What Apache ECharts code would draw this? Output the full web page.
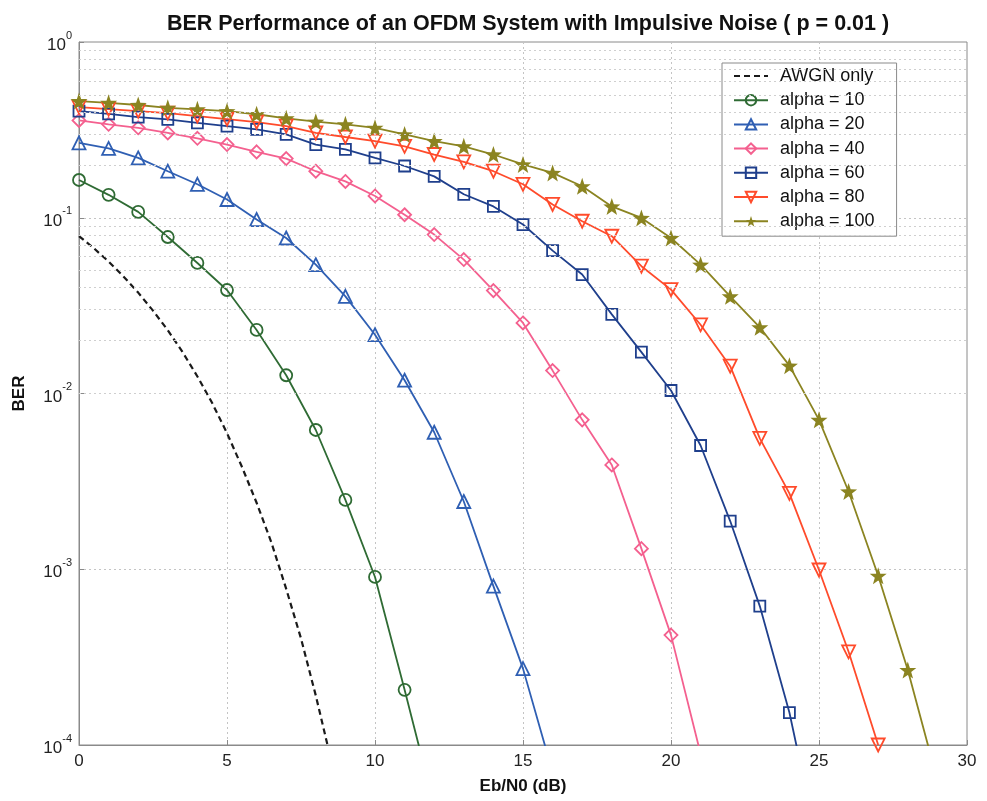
<!DOCTYPE html>
<html>
<head>
<meta charset="utf-8">
<script src="https://cdn.jsdelivr.net/npm/echarts@6/dist/echarts.min.js"></script>
<style>
  html, body { margin: 0; padding: 0; background: #fff; }
  #chart { width: 987px; height: 801px; }
</style>
</head>
<body>
<div id="chart"></div>
<script>
// BER vs Eb/N0
var snrAwgn = [0, 0.5, 1, 1.5, 2, 2.5, 3, 3.5, 4, 4.5, 5, 5.5, 6, 6.5, 7, 7.5, 8, 8.5, 9];
var berAwgn = [0.0786, 0.0671, 0.0563, 0.0464, 0.0375, 0.0296, 0.0229, 0.0172, 0.0125, 0.00882,
               0.00595, 0.00384, 0.00239, 0.00142, 0.000773, 0.000404, 0.000191, 0.0000843, 0.0000336];

var snr = [0, 1, 2, 3, 4, 5, 6, 7, 8, 9, 10, 11, 12, 13, 14, 15, 16, 17, 18, 19, 20,
           21, 22, 23, 24, 25, 26, 27, 28, 29];

var ber10 = [0.164, 0.135, 0.108, 0.0777, 0.0553, 0.0388, 0.0230, 0.0127, 0.0062, 0.00248,
             0.000904, 0.000206, 0.000045];
var ber20 = [0.267, 0.248, 0.219, 0.184, 0.155, 0.127, 0.0977, 0.0767, 0.0541, 0.0357,
             0.0216, 0.0119, 0.00602, 0.00243, 0.000802, 0.000272, 0.00007];
var ber40 = [0.358, 0.340, 0.325, 0.304, 0.283, 0.261, 0.237, 0.217, 0.184, 0.161,
             0.133, 0.104, 0.0802, 0.0578, 0.0385, 0.0252, 0.0135, 0.00708, 0.00392, 0.00131,
             0.000422, 0.000089];
var ber60 = [0.404, 0.390, 0.374, 0.363, 0.347, 0.332, 0.318, 0.298, 0.261, 0.245,
             0.219, 0.197, 0.172, 0.136, 0.116, 0.0915, 0.0650, 0.0475, 0.0282, 0.0172,
             0.0104, 0.00506, 0.00188, 0.000617, 0.000153, 0.000025];
var ber80 = [0.426, 0.415, 0.404, 0.394, 0.379, 0.364, 0.350, 0.332, 0.304, 0.288,
             0.273, 0.255, 0.229, 0.208, 0.184, 0.155, 0.119, 0.0955, 0.0785, 0.0530,
             0.0390, 0.0246, 0.0143, 0.00556, 0.00270, 0.00099, 0.000339, 0.0001];
var ber100 = [0.461, 0.451, 0.438, 0.422, 0.414, 0.404, 0.388, 0.368, 0.352, 0.340,
              0.325, 0.298, 0.273, 0.255, 0.229, 0.201, 0.180, 0.151, 0.116, 0.0998,
              0.0767, 0.0541, 0.0357, 0.0238, 0.0144, 0.00708, 0.00277, 0.000918, 0.000267, 0.000063];

var decades = [1e-4, 1e-3, 1e-2, 1e-1];
var minorSteps = [2, 3, 4, 5, 6, 7, 8, 9];

var minorGrid = [];
decades.forEach(function (d) {
  minorSteps.forEach(function (m) { minorGrid.push(+(d * m).toPrecision(2)); });
});

var FONT = '"Liberation Sans", Arial, Helvetica, sans-serif';
var STAR = 'path://M0,-10L2.35,-3.24L9.51,-3.09L3.8,1.24L5.88,8.09L0,4.2L-5.88,8.09L-3.8,1.24L-9.51,-3.09L-2.35,-3.24Z';

function pairs(xs, ys) {
  return ys.map(function (y, i) { return [xs[i], y]; });
}

function curve(name, ys, color, symbol, size, opts) {
  opts = opts || {};
  return {
    name: name,
    type: 'line',
    data: pairs(snr, ys),
    symbol: symbol,
    symbolSize: size,
    symbolRotate: opts.rotate || 0,
    showAllSymbol: true,
    lineStyle: { color: color, width: 1.8 },
    itemStyle: {
      color: opts.filled ? color : 'rgba(255,255,255,0)',
      borderColor: color,
      borderWidth: opts.filled ? 0 : 1.8
    },
    emphasis: { disabled: true },
    z: 3
  };
}

var chart = echarts.init(document.getElementById('chart'), null, { renderer: 'canvas' });

chart.setOption({
  animation: false,
  backgroundColor: '#fff',
  title: {
    text: 'BER Performance of an OFDM System with Impulsive Noise ( p = 0.01 )',
    left: 523,
    textAlign: 'center',
    top: 8,
    textStyle: { fontFamily: FONT, fontSize: 21.5, fontWeight: 'bold', color: '#111' }
  },
  grid: {
    left: 79, right: 20, top: 42, bottom: 56,
    show: true, borderColor: '#8a8a8a', borderWidth: 1, backgroundColor: '#fff'
  },
  legend: {
    orient: 'vertical',
    left: 722, top: 63,
    padding: [4, 22, 6, 11],
    backgroundColor: '#fff',
    borderColor: '#8a8a8a',
    borderWidth: 1,
    borderRadius: 0,
    itemWidth: 34,
    itemHeight: 13,
    itemGap: 6.2,
    textStyle: { fontFamily: FONT, fontSize: 18, color: '#111', padding: [0, 0, 0, 7] },
    data: [
      { name: 'AWGN only', itemStyle: { color: 'rgba(0,0,0,0)', borderWidth: 0, opacity: 0 } },
      'alpha = 10', 'alpha = 20', 'alpha = 40', 'alpha = 60', 'alpha = 80', 'alpha = 100'
    ]
  },
  xAxis: {
    type: 'value',
    min: 0, max: 30, interval: 5,
    name: 'Eb/N0 (dB)',
    nameLocation: 'middle',
    nameGap: 33,
    nameTextStyle: { fontFamily: FONT, fontSize: 17, fontWeight: 'bold', color: '#111' },
    axisLine: { show: true, lineStyle: { color: '#8a8a8a' } },
    axisTick: { show: true, inside: true, length: 5, lineStyle: { color: '#8a8a8a' } },
    axisLabel: { fontFamily: FONT, fontSize: 17, color: '#222', margin: 8 },
    splitLine: { show: true, lineStyle: { color: '#c4c4c4', type: [2, 3], width: 1 } }
  },
  yAxis: {
    type: 'log',
    logBase: 10,
    min: 1e-4, max: 1,
    name: 'BER',
    nameLocation: 'middle',
    nameGap: 51,
    nameTextStyle: { fontFamily: FONT, fontSize: 17, fontWeight: 'bold', color: '#111' },
    axisLine: { show: true, lineStyle: { color: '#8a8a8a' } },
    axisTick: { show: true, inside: true, length: 5, lineStyle: { color: '#8a8a8a' } },
    axisLabel: {
      margin: 7,
      formatter: function (v) {
        var e = Math.round(Math.log(v) / Math.LN10);
        return '{b|10}{s|' + e + '}';
      },
      rich: {
        b: { fontFamily: FONT, fontSize: 17, color: '#222', verticalAlign: 'bottom', lineHeight: 24 },
        s: { fontFamily: FONT, fontSize: 11, color: '#222', verticalAlign: 'top', lineHeight: 24 }
      }
    },
    splitLine: { show: true, lineStyle: { color: '#c4c4c4', type: [2, 3], width: 1 } }
  },
  series: [
    {
      name: 'minor-grid',
      type: 'line',
      data: [],
      silent: true,
      z: 1,
      markLine: {
        silent: true,
        symbol: ['none', 'none'],
        label: { show: false },
        lineStyle: { color: '#cfcfcf', type: [2, 3], width: 1 },
        animation: false,
        data: minorGrid.map(function (v) { return { yAxis: v }; })
      }
    },
    {
      name: 'AWGN only',
      type: 'line',
      data: pairs(snrAwgn, berAwgn),
      symbol: 'none',
      lineStyle: { color: '#1a1a1a', width: 2.2, type: [6, 4] },
      itemStyle: { color: '#1a1a1a' },
      emphasis: { disabled: true },
      z: 3
    },
    curve('alpha = 10', ber10, '#2f6b34', 'circle', 12),
    curve('alpha = 20', ber20, '#2f5fb3', 'triangle', 13),
    curve('alpha = 40', ber40, '#f4608f', 'diamond', 13),
    curve('alpha = 60', ber60, '#1f3f8c', 'rect', 11),
    curve('alpha = 80', ber80, '#ff4b2b', 'triangle', 13, { rotate: 180 }),
    curve('alpha = 100', ber100, '#8b8421', STAR, 17, { filled: true })
  ]
});
</script>
</body>
</html>
